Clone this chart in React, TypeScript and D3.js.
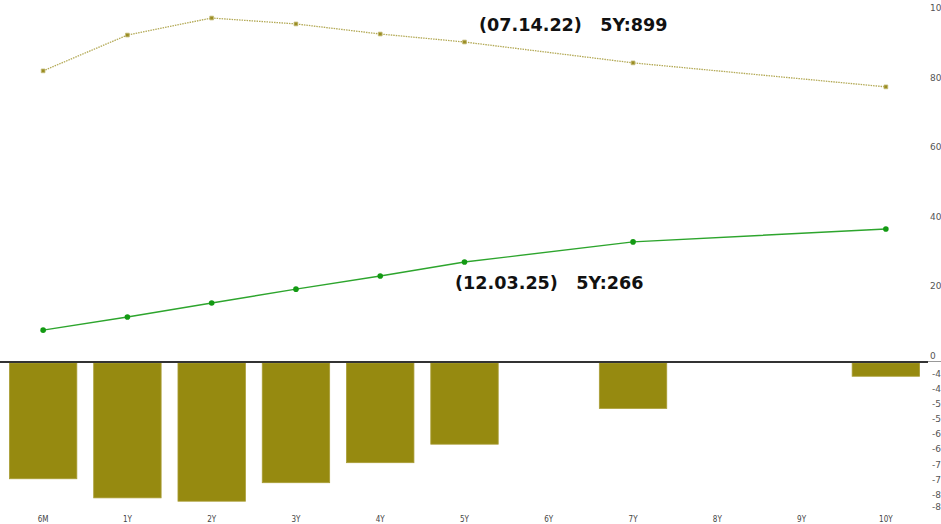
import * as d3 from "d3";

// curve tenors and values
const tenors = ["6M", "1Y", "2Y", "3Y", "4Y", "5Y", "6Y", "7Y", "8Y", "9Y", "10Y"];
const curveTenors = ["6M", "1Y", "2Y", "3Y", "4Y", "5Y", "7Y", "10Y"];
const curve2022 = [816, 919, 968, 951, 922, 899, 839, 770];
const curve2025 = [70, 108, 148, 188, 226, 266, 324, 361];
const spreadChange = [-745, -808, -819, -758, -692, -631, -513, -407];

const upperTicks = [0, 200, 400, 600, 800, 1000];
const lowerTicks = [-400, -450, -500, -550, -600, -650, -700, -750, -800, -840];

const label2022 = "(07.14.22)   5Y:899";
const label2025 = "(12.03.25)   5Y:266";

const W = 941;
const H = 524;
const plotRight = 928;
const paneY = 362;

export default function App() {
  const x = d3.scaleBand<string>().domain(tenors).range([1, plotRight]).paddingInner(0.2).paddingOuter(0.1);
  const cx = (t: string) => x(t)! + x.bandwidth() / 2;

  const yUp = d3.scaleLinear().domain([0, 1000]).range([354.5, 6.9]);
  const yLow = d3.scaleLinear().domain([-360, -850]).range([paneY, 510.6]);

  const line = d3
    .line<number>()
    .x((_, i) => cx(curveTenors[i]))
    .y((d) => yUp(d));

  const marker = d3.symbol().type(d3.symbolSquare).size(14)()!;

  return (
    <svg
      width={W}
      height={H}
      style={{ position: "absolute", left: 0, top: 0, background: "#fff" }}
      fontFamily="'DejaVu Sans', Verdana, sans-serif"
    >
      {/* bars in the lower pane, clipped at the pane top */}
      {spreadChange.map((v, i) => {
        const t = curveTenors[i];
        return (
          <rect
            key={t}
            x={x(t)}
            y={paneY + 1}
            width={x.bandwidth()}
            height={yLow(v) - paneY - 1}
            fill="#968a10"
            stroke="#a99d35"
            strokeWidth={0.8}
          />
        );
      })}

      {/* pane divider */}
      <line x1={0} x2={plotRight} y1={paneY} y2={paneY} stroke="#333" strokeWidth={2} />
      <line x1={plotRight} x2={W} y1={paneY - 0.5} y2={paneY - 0.5} stroke="#999" strokeWidth={1} />

      {/* 07.14.22 curve */}
      <path d={line(curve2022)!} fill="none" stroke="#b3a955" strokeWidth={1.3} strokeDasharray="1.5,1" />
      {curve2022.map((v, i) => (
        <path
          key={i}
          d={marker}
          transform={`translate(${cx(curveTenors[i])},${yUp(v)})`}
          fill="#9a8d22"
          stroke="#c4bb7a"
          strokeWidth={0.8}
        />
      ))}

      {/* 12.03.25 curve */}
      <path d={line(curve2025)!} fill="none" stroke="#2da52d" strokeWidth={1.4} />
      {curve2025.map((v, i) => (
        <circle key={i} cx={cx(curveTenors[i])} cy={yUp(v)} r={2.8} fill="#139a13" />
      ))}

      {/* annotations */}
      <text x={479} y={31} fontSize={17.6} fontWeight="bold" fill="#111" style={{ whiteSpace: "pre" }}>
        {label2022}
      </text>
      <text x={455} y={289} fontSize={17.6} fontWeight="bold" fill="#111" style={{ whiteSpace: "pre" }}>
        {label2025}
      </text>

      {/* right axes, cut off by the window edge */}
      {upperTicks.map((v) => (
        <text key={v} x={930} y={yUp(v) + 2} fontSize={9} fill="#555" dominantBaseline="middle">
          {v}
        </text>
      ))}
      {lowerTicks.map((v) => (
        <text key={v} x={932} y={yLow(v)} fontSize={9} fill="#555" dominantBaseline="middle">
          {v}
        </text>
      ))}

      {/* tenor labels */}
      {tenors.map((t) => (
        <text
          key={t}
          x={cx(t)}
          y={519}
          fontSize={8}
          fill="#444"
          textAnchor="middle"
          dominantBaseline="middle"
          fontFamily="'DejaVu Sans Condensed', 'DejaVu Sans', sans-serif"
        >
          {t}
        </text>
      ))}
    </svg>
  );
}
